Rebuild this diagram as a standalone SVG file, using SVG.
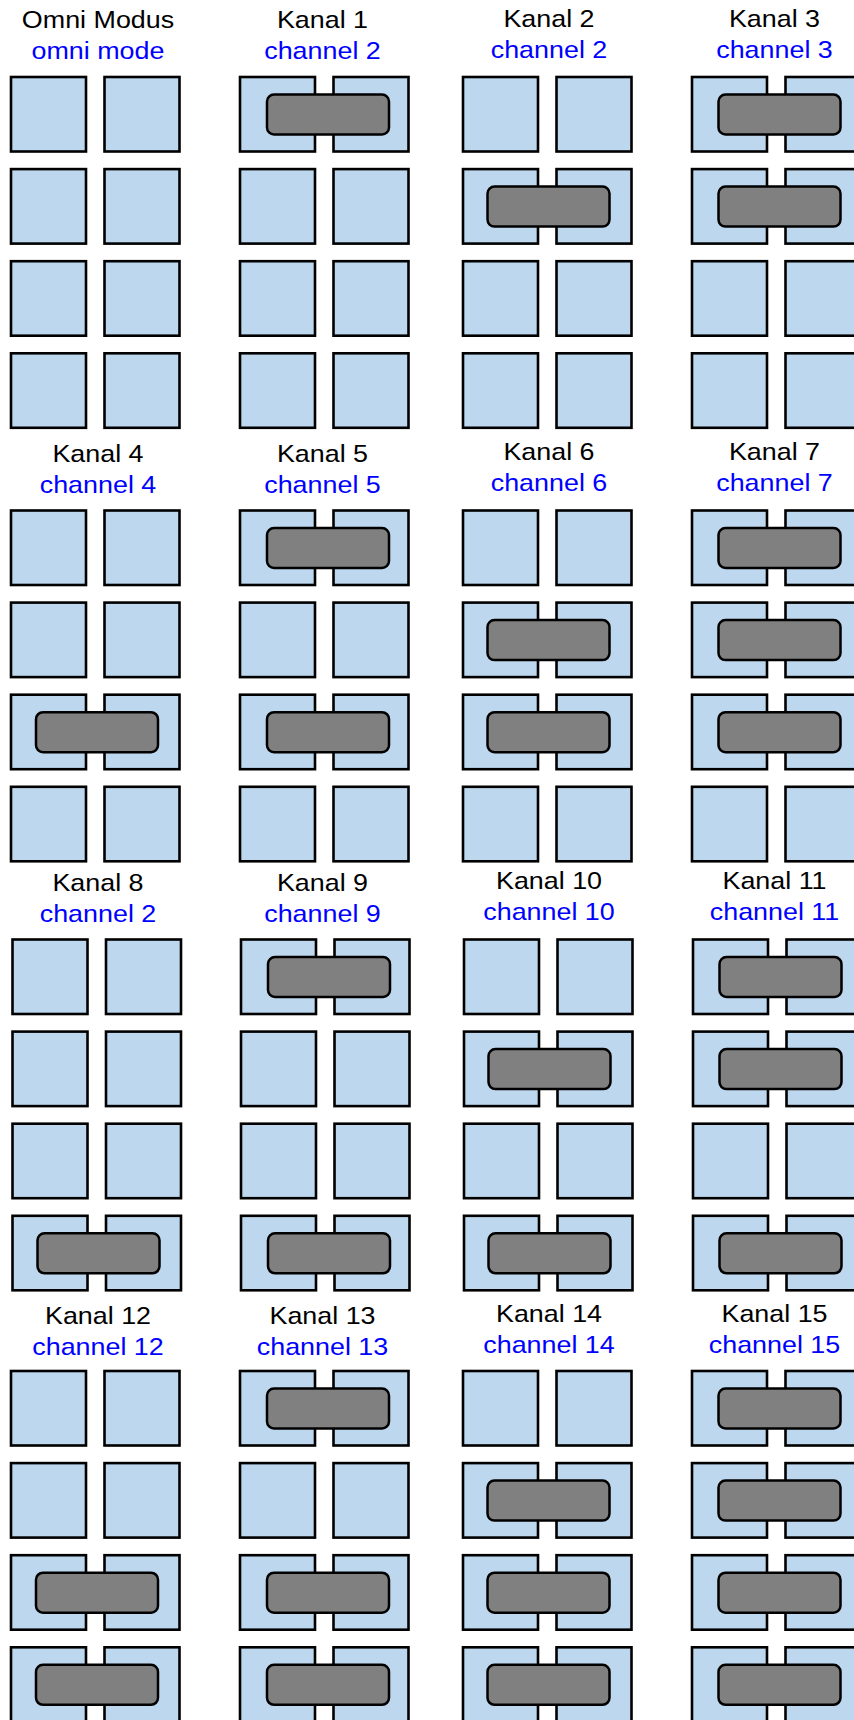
<svg xmlns="http://www.w3.org/2000/svg" xmlns:xlink="http://www.w3.org/1999/xlink" width="854" height="1720" viewBox="0 0 854 1720">
<style>
.box{fill:#BDD7EE;stroke:#000;stroke-width:2.6}
.dial{fill:#808080;stroke:#000;stroke-width:2.5}
.t1,.t2{font-family:"Liberation Sans",Arial,sans-serif;font-size:24px;text-anchor:middle}
.t1{fill:#000}
.t2{fill:#0000FF}
</style>
<defs>
<g id="pair"><rect class="box" x="0" y="0" width="75" height="74.5"/><rect class="box" x="93.5" y="0" width="75" height="74.5"/></g>
<rect id="dial" class="dial" x="0" y="0" width="122" height="40" rx="7"/>
</defs>
<rect width="854" height="1720" fill="#fff"/>

<g id="omni">
<text class="t1" transform="translate(98,28) scale(1.12,1)">Omni Modus</text>
<text class="t2" transform="translate(98,59) scale(1.12,1)">omni mode</text>
<use href="#pair" x="11" y="77"/><use href="#pair" x="11" y="169.1"/><use href="#pair" x="11" y="261.2"/><use href="#pair" x="11" y="353.3"/>
</g>
<g id="kanal-1">
<text class="t1" transform="translate(322.5,28) scale(1.12,1)">Kanal 1</text>
<text class="t2" transform="translate(322.5,59) scale(1.12,1)">channel 2</text>
<use href="#pair" x="240" y="77"/><use href="#pair" x="240" y="169.1"/><use href="#pair" x="240" y="261.2"/><use href="#pair" x="240" y="353.3"/>
<use href="#dial" x="267" y="94.5"/>
</g>
<g id="kanal-2">
<text class="t1" transform="translate(549,26.5) scale(1.12,1)">Kanal 2</text>
<text class="t2" transform="translate(549,57.5) scale(1.12,1)">channel 2</text>
<use href="#pair" x="463" y="77"/><use href="#pair" x="463" y="169.1"/><use href="#pair" x="463" y="261.2"/><use href="#pair" x="463" y="353.3"/>
<use href="#dial" x="487.5" y="186.6"/>
</g>
<g id="kanal-3">
<text class="t1" transform="translate(774.5,26.5) scale(1.12,1)">Kanal 3</text>
<text class="t2" transform="translate(774.5,57.5) scale(1.12,1)">channel 3</text>
<use href="#pair" x="692" y="77"/><use href="#pair" x="692" y="169.1"/><use href="#pair" x="692" y="261.2"/><use href="#pair" x="692" y="353.3"/>
<use href="#dial" x="718.5" y="94.5"/><use href="#dial" x="718.5" y="186.6"/>
</g>

<g id="kanal-4">
<text class="t1" transform="translate(98,461.5) scale(1.12,1)">Kanal 4</text>
<text class="t2" transform="translate(98,492.5) scale(1.12,1)">channel 4</text>
<use href="#pair" x="11" y="510.5"/><use href="#pair" x="11" y="602.6"/><use href="#pair" x="11" y="694.7"/><use href="#pair" x="11" y="786.8"/>
<use href="#dial" x="36" y="712.2"/>
</g>
<g id="kanal-5">
<text class="t1" transform="translate(322.5,461.5) scale(1.12,1)">Kanal 5</text>
<text class="t2" transform="translate(322.5,492.5) scale(1.12,1)">channel 5</text>
<use href="#pair" x="240" y="510.5"/><use href="#pair" x="240" y="602.6"/><use href="#pair" x="240" y="694.7"/><use href="#pair" x="240" y="786.8"/>
<use href="#dial" x="267" y="528"/><use href="#dial" x="267" y="712.2"/>
</g>
<g id="kanal-6">
<text class="t1" transform="translate(549,460) scale(1.12,1)">Kanal 6</text>
<text class="t2" transform="translate(549,491) scale(1.12,1)">channel 6</text>
<use href="#pair" x="463" y="510.5"/><use href="#pair" x="463" y="602.6"/><use href="#pair" x="463" y="694.7"/><use href="#pair" x="463" y="786.8"/>
<use href="#dial" x="487.5" y="620.1"/><use href="#dial" x="487.5" y="712.2"/>
</g>
<g id="kanal-7">
<text class="t1" transform="translate(774.5,460) scale(1.12,1)">Kanal 7</text>
<text class="t2" transform="translate(774.5,491) scale(1.12,1)">channel 7</text>
<use href="#pair" x="692" y="510.5"/><use href="#pair" x="692" y="602.6"/><use href="#pair" x="692" y="694.7"/><use href="#pair" x="692" y="786.8"/>
<use href="#dial" x="718.5" y="528"/><use href="#dial" x="718.5" y="620.1"/><use href="#dial" x="718.5" y="712.2"/>
</g>

<g id="kanal-8">
<text class="t1" transform="translate(98,890.5) scale(1.12,1)">Kanal 8</text>
<text class="t2" transform="translate(98,921.5) scale(1.12,1)">channel 2</text>
<use href="#pair" x="12.5" y="939.5"/><use href="#pair" x="12.5" y="1031.6"/><use href="#pair" x="12.5" y="1123.7"/><use href="#pair" x="12.5" y="1215.8"/>
<use href="#dial" x="37.5" y="1233.3"/>
</g>
<g id="kanal-9">
<text class="t1" transform="translate(322.5,890.5) scale(1.12,1)">Kanal 9</text>
<text class="t2" transform="translate(322.5,921.5) scale(1.12,1)">channel 9</text>
<use href="#pair" x="241" y="939.5"/><use href="#pair" x="241" y="1031.6"/><use href="#pair" x="241" y="1123.7"/><use href="#pair" x="241" y="1215.8"/>
<use href="#dial" x="268" y="957"/><use href="#dial" x="268" y="1233.3"/>
</g>
<g id="kanal-10">
<text class="t1" transform="translate(549,889) scale(1.12,1)">Kanal 10</text>
<text class="t2" transform="translate(549,920) scale(1.12,1)">channel 10</text>
<use href="#pair" x="464" y="939.5"/><use href="#pair" x="464" y="1031.6"/><use href="#pair" x="464" y="1123.7"/><use href="#pair" x="464" y="1215.8"/>
<use href="#dial" x="488.5" y="1049.1"/><use href="#dial" x="488.5" y="1233.3"/>
</g>
<g id="kanal-11">
<text class="t1" transform="translate(774.5,889) scale(1.12,1)">Kanal 11</text>
<text class="t2" transform="translate(774.5,920) scale(1.12,1)">channel 11</text>
<use href="#pair" x="693" y="939.5"/><use href="#pair" x="693" y="1031.6"/><use href="#pair" x="693" y="1123.7"/><use href="#pair" x="693" y="1215.8"/>
<use href="#dial" x="719.5" y="957"/><use href="#dial" x="719.5" y="1049.1"/><use href="#dial" x="719.5" y="1233.3"/>
</g>

<g id="kanal-12">
<text class="t1" transform="translate(98,1323.5) scale(1.12,1)">Kanal 12</text>
<text class="t2" transform="translate(98,1354.5) scale(1.12,1)">channel 12</text>
<use href="#pair" x="11" y="1371"/><use href="#pair" x="11" y="1463.1"/><use href="#pair" x="11" y="1555.2"/><use href="#pair" x="11" y="1647.3"/>
<use href="#dial" x="36" y="1572.7"/><use href="#dial" x="36" y="1664.8"/>
</g>
<g id="kanal-13">
<text class="t1" transform="translate(322.5,1323.5) scale(1.12,1)">Kanal 13</text>
<text class="t2" transform="translate(322.5,1354.5) scale(1.12,1)">channel 13</text>
<use href="#pair" x="240" y="1371"/><use href="#pair" x="240" y="1463.1"/><use href="#pair" x="240" y="1555.2"/><use href="#pair" x="240" y="1647.3"/>
<use href="#dial" x="267" y="1388.5"/><use href="#dial" x="267" y="1572.7"/><use href="#dial" x="267" y="1664.8"/>
</g>
<g id="kanal-14">
<text class="t1" transform="translate(549,1322) scale(1.12,1)">Kanal 14</text>
<text class="t2" transform="translate(549,1353) scale(1.12,1)">channel 14</text>
<use href="#pair" x="463" y="1371"/><use href="#pair" x="463" y="1463.1"/><use href="#pair" x="463" y="1555.2"/><use href="#pair" x="463" y="1647.3"/>
<use href="#dial" x="487.5" y="1480.6"/><use href="#dial" x="487.5" y="1572.7"/><use href="#dial" x="487.5" y="1664.8"/>
</g>
<g id="kanal-15">
<text class="t1" transform="translate(774.5,1322) scale(1.12,1)">Kanal 15</text>
<text class="t2" transform="translate(774.5,1353) scale(1.12,1)">channel 15</text>
<use href="#pair" x="692" y="1371"/><use href="#pair" x="692" y="1463.1"/><use href="#pair" x="692" y="1555.2"/><use href="#pair" x="692" y="1647.3"/>
<use href="#dial" x="718.5" y="1388.5"/><use href="#dial" x="718.5" y="1480.6"/><use href="#dial" x="718.5" y="1572.7"/><use href="#dial" x="718.5" y="1664.8"/>
</g>
</svg>
